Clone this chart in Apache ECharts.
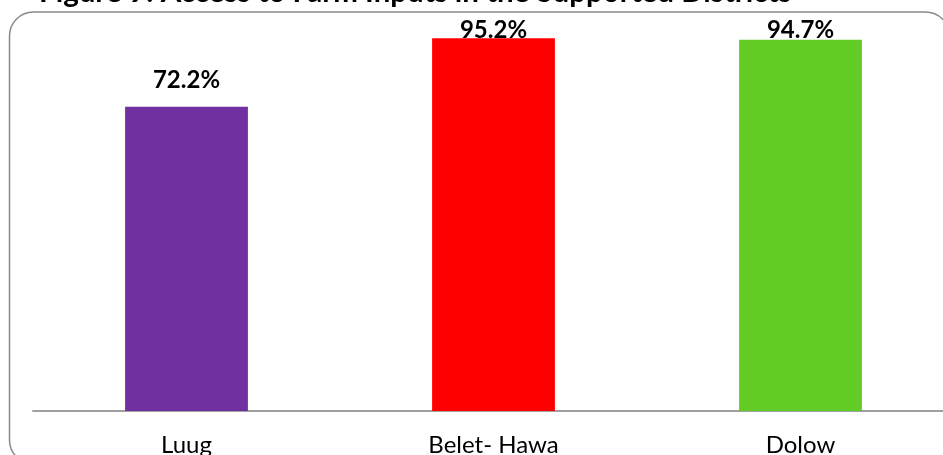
<!DOCTYPE html>
<html>
<head>
<meta charset="utf-8">
<script src="https://cdn.jsdelivr.net/npm/echarts@6/dist/echarts.min.js"></script>
<style>
html,body{margin:0;padding:0;background:#fff;}
#chart{width:943px;height:455px;}
</style>
</head>
<body>
<div id="chart"></div>
<script>
const categories = ['Luug', 'Belet- Hawa', 'Dolow'];
const values = [72.2, 95.2, 94.7];
const barColors = ['#7030A0', '#FF0000', '#62CB24'];
const labelDistances = [14, -4, -2.5];
const titleText = 'Figure 9: Access to Farm Inputs in the Supported Districts';

const chart = echarts.init(document.getElementById('chart'), null, {renderer: 'canvas'});
const FONT = 'Lato, "Open Sans", sans-serif';

chart.setOption({
  animation: false,
  backgroundColor: '#ffffff',
  graphic: [
    {
      type: 'rect', z: -10, silent: true,
      shape: {x: 9.5, y: 12, width: 940, height: 452, r: 24},
      style: {fill: 'none', stroke: '#8a8a8a', lineWidth: 1.5}
    },
    {
      type: 'text', z: 10, silent: true,
      x: 39, y: 7,
      style: {
        text: titleText, fill: '#000', font: 'bold 29.5px ' + FONT, lineHeight: 30,
        textAlign: 'left', textVerticalAlign: 'bottom'
      }
    }
  ],
  grid: {left: 33, width: 921, top: 24, height: 387, outerBoundsMode: 'none', containLabel: false},
  xAxis: {
    type: 'category',
    data: categories,
    axisLine: {onZero: false, lineStyle: {color: '#a0a0a0', width: 2}},
    axisTick: {show: false},
    axisLabel: {color: '#000', fontSize: 24, fontFamily: FONT, margin: 22, interval: 0}
  },
  yAxis: {
    type: 'value',
    min: -30, max: 100, startValue: -30,
    show: false,
    splitLine: {show: false}
  },
  series: [{
    type: 'bar',
    barWidth: '40%',
    data: values.map((v, i) => ({
      value: v,
      itemStyle: {color: barColors[i]},
      label: {distance: labelDistances[i]}
    })),
    label: {
      show: true, position: 'top',
      formatter: p => p.value.toFixed(1) + '%',
      color: '#000', fontSize: 24, fontWeight: 'bold', fontFamily: FONT, lineHeight: 24
    }
  }]
});
</script>
</body>
</html>
